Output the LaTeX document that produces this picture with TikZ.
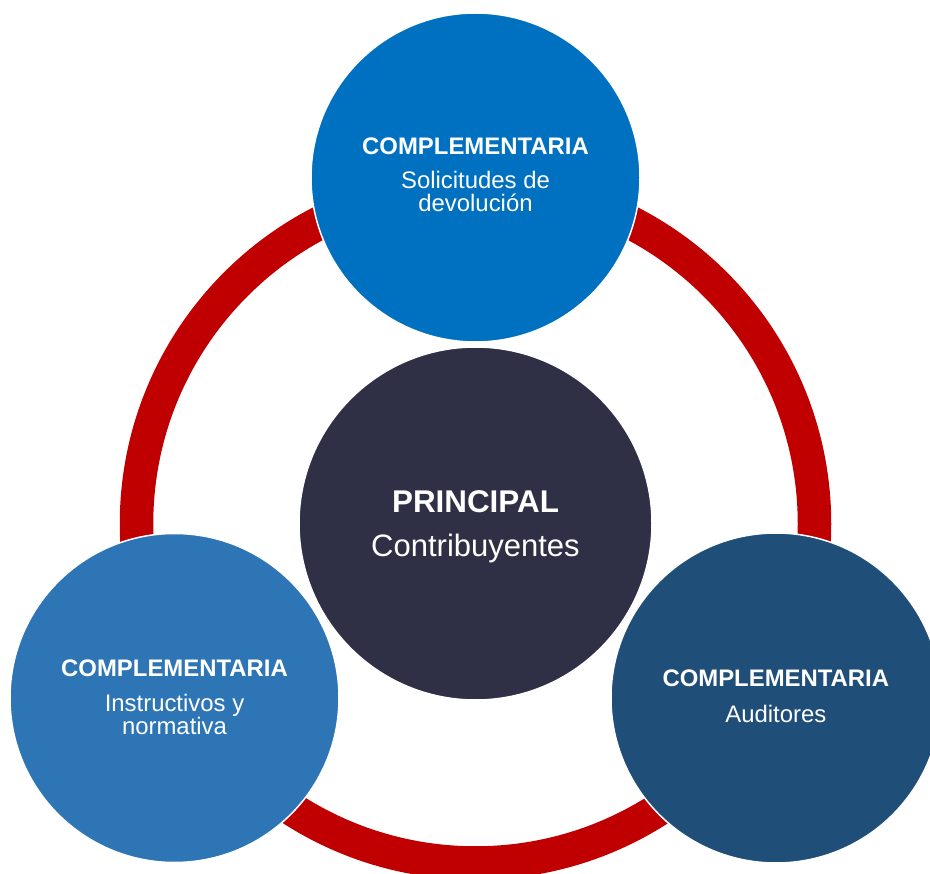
\documentclass[tikz,border=0pt]{standalone}
\usepackage{fontspec}
\setmainfont{Liberation Sans}
\definecolor{ringred}{HTML}{C00000}
\definecolor{topblue}{HTML}{0070C0}
\definecolor{leftblue}{HTML}{2E75B6}
\definecolor{rightblue}{HTML}{1F4E79}
\definecolor{centerdark}{HTML}{2F3045}
\tikzset{
  bubble/.style={circle, draw=white, line width=1.5pt, inner sep=0pt, outer sep=0pt},
  ringstyle/.style={circle, draw=ringred, line width=33.5pt, inner sep=0pt, outer sep=0pt, minimum size=678pt},
  titletext/.style={anchor=base, text=white, inner sep=0pt, font=\fontsize{23.9pt}{23pt}\selectfont\bfseries},
  subtext/.style={anchor=base, text=white, inner sep=0pt, font=\fontsize{23.9pt}{23pt}\selectfont},
  bigtitle/.style={anchor=base, text=white, inner sep=0pt, font=\fontsize{31.4pt}{31pt}\selectfont\bfseries},
  bigsub/.style={anchor=base, text=white, inner sep=0pt, font=\fontsize{31pt}{31pt}\selectfont}
}
\begin{document}
\begin{tikzpicture}[x=1pt,y=-1pt]
\useasboundingbox (0,0) rectangle (930,874);
% ring
\node[ringstyle] (ring) at (475.5,524) {};
% circles
\node[bubble, fill=topblue, minimum size=329pt] (top) at (475.5,177.5) {};
\node[bubble, fill=centerdark, minimum size=353pt] (center) at (475.5,523.5) {};
\node[bubble, fill=leftblue, minimum size=329pt] (left) at (174.5,698) {};
\node[bubble, fill=rightblue, minimum size=330pt] (right) at (776,698) {};
% texts top
\node[titletext] (toptitle) at (475.5,154.3) {COMPLEMENTARIA};
\node[subtext] (topsub1) at (475.5,189) {Solicitudes de};
\node[subtext] (topsub2) at (475.5,211.7) {devolución};
% center
\node[bigtitle] (ctitle) at (475.5,512.3) {PRINCIPAL};
\node[bigsub] (csub) at (475.5,556.7) {Contribuyentes};
% left
\node[titletext] (ltitle) at (174.5,676) {COMPLEMENTARIA};
\node[subtext] (lsub1) at (174.5,711) {Instructivos y};
\node[subtext] (lsub2) at (174.5,734.3) {normativa};
% right
\node[titletext] (rtitle) at (775.8,686.7) {COMPLEMENTARIA};
\node[subtext] (rsub) at (775.8,722.3) {Auditores};
\end{tikzpicture}
\end{document}
